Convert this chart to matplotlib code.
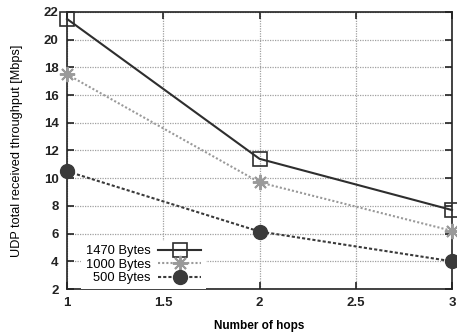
import matplotlib
matplotlib.use("Agg")
import matplotlib.pyplot as plt
from matplotlib.lines import Line2D

plt.rcParams['font.family'] = ['Liberation Sans', 'DejaVu Sans']

hops = [1, 2, 3]
bytes_1470 = [21.5, 11.4, 7.7]
bytes_1000 = [17.5, 9.7, 6.2]
bytes_500 = [10.5, 6.15, 4.0]
series_labels = ["1470 Bytes", "1000 Bytes", "500 Bytes"]
xticks = [1, 1.5, 2, 2.5, 3]
yticks = [2, 4, 6, 8, 10, 12, 14, 16, 18, 20, 22]

c1470 = '#2e2e2e'
c1000 = '#9a9a9a'
c500 = '#3a3a3a'
style_1470 = dict(color=c1470, lw=1.5, ls='-', marker='s', ms=10,
                  mfc='none', mec=c1470, mew=1.2)
style_1000 = dict(color=c1000, lw=1.5, ls=(0, (1, 1)), marker=(8, 2, 0),
                  ms=11, mec=c1000, mew=1.4)
style_500 = dict(color=c500, lw=1.5, ls=(0, (1.5, 1)), marker='o', ms=10,
                 mfc=c500, mec=c500)

fig = plt.figure(figsize=(4.57, 3.34), dpi=100)
ax = fig.add_axes([67/457, (334-289)/334, (452-67)/457, (289-12)/334])

ax.plot(hops, bytes_1470, zorder=3, clip_on=False, **style_1470)
ax.plot(hops, bytes_1000, zorder=3, clip_on=False, **style_1000)
ax.plot(hops, bytes_500, zorder=3, clip_on=False, **style_500)

ax.set_xlim(1, 3)
ax.set_ylim(2, 22)
ax.set_xticks(xticks)
ax.set_xticklabels(['1', '1.5', '2', '2.5', '3'])
ax.set_yticks(yticks)
ax.grid(True, color='#a0a0a0', ls=(0, (1, 1)), lw=0.9)
ax.set_axisbelow(True)

ax.tick_params(direction='in', length=5, width=1.2, top=True, right=True,
               labelsize=9.5, colors='#222222', pad=6)
for lab in ax.get_xticklabels() + ax.get_yticklabels():
    lab.set_fontweight('bold')
for sp in ax.spines.values():
    sp.set_linewidth(1.2)
    sp.set_color('#222222')

ax.set_xlabel('Number of hops', fontsize=8.5, fontweight='bold', labelpad=8)
ax.set_ylabel('UDP total received throughput [Mbps]', fontsize=9.2,
              labelpad=15)

handles = [Line2D([], [], **style_1470),
           Line2D([], [], **style_1000),
           Line2D([], [], **style_500)]
leg = ax.legend(handles, series_labels, loc='lower right',
                bbox_to_anchor=(0.36, 0.0), markerfirst=False,
                fontsize=9.3, frameon=True, fancybox=False, framealpha=1,
                edgecolor='white', facecolor='white', borderaxespad=0.0,
                handlelength=3.3, handletextpad=0.6, labelspacing=0.12,
                borderpad=0.35)
leg.get_frame().set_linewidth(0)
leg.set_zorder(4)

fig.savefig('out.png', dpi=100)
